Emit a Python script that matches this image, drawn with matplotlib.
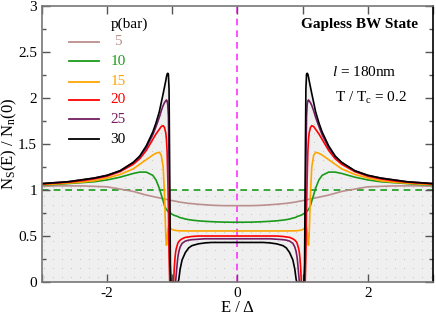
import numpy as np
import matplotlib
matplotlib.use('Agg')
import matplotlib.pyplot as plt

plt.rcParams['font.family'] = ['Liberation Serif', 'DejaVu Serif']
plt.rcParams['mathtext.fontset'] = 'custom'
plt.rcParams['mathtext.rm'] = 'Liberation Serif'
plt.rcParams['mathtext.it'] = 'Liberation Serif:italic'

# energies E/Delta on the negative side (curves are symmetric about E = 0)
E_half = [-3.0, -2.8, -2.6, -2.4, -2.2, -2.0, -1.8, -1.6, -1.5, -1.4, -1.3,
          -1.25, -1.2, -1.17, -1.14, -1.12, -1.10, -1.09, -1.08, -1.07, -1.06,
          -1.05, -1.04, -1.03, -1.02, -1.0, -0.98, -0.97, -0.96, -0.95, -0.94,
          -0.92, -0.91, -0.90, -0.88, -0.85, -0.8, -0.75, -0.7, -0.6, -0.5,
          -0.4, -0.3, -0.2, -0.1, 0.0]

pressures = ['5', '10', '15', '20', '25', '30']

dos_5 = [1.04, 1.045, 1.045, 1.045, 1.04, 1.035, 1.01, 0.985, 0.965, 0.945, 0.93,
         0.922, 0.915, 0.91, 0.905, 0.903, 0.90, 0.898, 0.897, 0.895, 0.893,
         0.891, 0.89, 0.888, 0.887, 0.885, 0.882, 0.881, 0.879, 0.878, 0.877,
         0.874, 0.872, 0.87, 0.868, 0.865, 0.86, 0.855, 0.852, 0.845, 0.84,
         0.835, 0.832, 0.83, 0.83, 0.83]

dos_10 = [1.055, 1.06, 1.07, 1.08, 1.09, 1.11, 1.14, 1.18, 1.195, 1.195, 1.16,
          1.11, 1.02, 0.95, 0.88, 0.83, 0.80, 0.79, 0.78, 0.77, 0.765,
          0.76, 0.755, 0.75, 0.745, 0.735, 0.728, 0.725, 0.722, 0.72, 0.718,
          0.713, 0.71, 0.705, 0.70, 0.695, 0.685, 0.678, 0.673, 0.665, 0.66,
          0.656, 0.653, 0.651, 0.65, 0.65]

dos_15 = [1.06, 1.065, 1.075, 1.085, 1.10, 1.13, 1.17, 1.23, 1.28, 1.33, 1.38,
          1.40, 1.41, 1.38, 1.25, 0.95, 0.50, 0.40, 0.45, 0.55, 0.60,
          0.61, 0.60, 0.59, 0.58, 0.57, 0.565, 0.563, 0.562, 0.561, 0.56,
          0.558, 0.558, 0.557, 0.557, 0.556, 0.556, 0.555, 0.555, 0.555, 0.555,
          0.555, 0.555, 0.555, 0.555, 0.555]

dos_20 = [1.065, 1.075, 1.085, 1.10, 1.12, 1.15, 1.20, 1.28, 1.34, 1.43, 1.55,
          1.61, 1.66, 1.69, 1.70, 1.68, 1.62, 1.55, 1.42, 1.15, 0.80,
          0.30, 0.0, 0.0, 0.0, 0.0, 0.0, 0.15, 0.25, 0.32, 0.36,
          0.41, 0.43, 0.44, 0.455, 0.47, 0.485, 0.49, 0.495, 0.50, 0.50,
          0.50, 0.50, 0.50, 0.50, 0.50]

dos_25 = [1.07, 1.08, 1.09, 1.11, 1.13, 1.16, 1.21, 1.30, 1.36, 1.46, 1.60,
          1.69, 1.79, 1.86, 1.92, 1.95, 1.97, 1.98, 1.97, 1.93, 1.80,
          1.30, 0.40, 0.0, 0.0, 0.0, 0.0, 0.0, 0.0, 0.0, 0.08,
          0.24, 0.29, 0.33, 0.38, 0.42, 0.445, 0.455, 0.46, 0.465, 0.47,
          0.47, 0.47, 0.47, 0.47, 0.47]

dos_30 = [1.07, 1.08, 1.09, 1.11, 1.13, 1.16, 1.21, 1.30, 1.37, 1.48, 1.63,
          1.73, 1.85, 1.95, 2.05, 2.12, 2.19, 2.23, 2.26, 2.27, 2.26,
          2.10, 1.20, 0.20, 0.0, 0.0, 0.0, 0.0, 0.0, 0.0, 0.0,
          0.0, 0.0, 0.03, 0.14, 0.24, 0.32, 0.37, 0.395, 0.415, 0.425,
          0.43, 0.43, 0.43, 0.43, 0.43]

colors = ['#bc8f8f', '#1a9a1a', '#ffa500', '#ff0000', '#731e62', '#000000']

E = np.array(E_half + [-e for e in E_half[-2::-1]])


def full(half):
    return np.array(half + half[-2::-1])


curves = [full(dos_5), full(dos_10), full(dos_15), full(dos_20), full(dos_25), full(dos_30)]

fig = plt.figure(figsize=(4.36, 3.21), dpi=100)
ax = fig.add_axes([0.0963, 0.1215, 0.8967, 0.8595])

# shaded region under the envelope, with a faint dot texture
envelope = np.maximum(1.0, curves[-1])
shade = ax.fill_between(E, 0, envelope, facecolor='#efefef', linewidth=0, zorder=0)
gx, gy = np.meshgrid(np.arange(-2.97, 3.0, 0.138), np.arange(0.05, 3.0, 0.098))
dots = ax.scatter(gx.ravel(), gy.ravel(), s=0.6, color='#c4c4c4', linewidths=0, zorder=0.5)
dots.set_clip_path(shade.get_paths()[0], ax.transData)

ax.axhline(1.0, color='#1a9a1a', ls=(0, (4, 3)), lw=1.2, zorder=1)
ax.axvline(0.0, color='#ff33ff', ls=(0, (4, 3)), lw=1.2, zorder=1)

for y, c in zip(curves, colors):
    ax.plot(E, y, color=c, lw=1.2, zorder=2)

ax.set_xlim(-3, 3)
ax.set_ylim(0, 3)
ax.set_xticks([-3, -2, -1, 0, 1, 2, 3])
ax.set_xticklabels(['', '-2', '', '0', '', '2', ''])
ax.set_yticks([0, 0.5, 1, 1.5, 2, 2.5, 3])
ax.set_yticklabels(['0', '0.5', '1', '1.5', '2', '2.5', '3'])
ax.set_yticks(np.arange(0, 3.01, 0.25), minor=True)
ax.tick_params(which='both', direction='in', top=True, right=True, labelsize=11,
               color='#555555')
ax.tick_params(which='major', length=6, width=1)
ax.tick_params(which='minor', length=3, width=1)
for s in ['left', 'bottom', 'top']:
    ax.spines[s].set_color('#777777')
    ax.spines[s].set_linewidth(1.2)
ax.spines['right'].set_color('black')
ax.spines['right'].set_linewidth(1.2)

ax.set_xlabel('E / Δ', fontsize=12, labelpad=0)
ax.set_ylabel(r'N$_\mathrm{S}$(E) / N$_\mathrm{n}$(0)', fontsize=12)
ax.yaxis.set_label_coords(-0.058, 0.5)

# legend drawn by hand
ax.text(-1.66, 2.8, 'p(bar)', fontsize=11, ha='center', va='center')
row_y = [2.61, 2.40, 2.18, 1.98, 1.77, 1.55]
for lab, c, yy in zip(pressures, colors, row_y):
    ax.plot([-2.58, -2.12], [yy, yy], color=c, lw=1.3, zorder=3)
    ax.text(-1.83, yy, lab, color=c, fontsize=11, ha='center', va='center')

ax.text(1.88, 2.8, 'Gapless BW State', fontsize=11, fontweight='bold',
        ha='center', va='center')
ax.text(1.95, 2.28, r'$\it{l}$ = 180nm', fontsize=11, ha='center', va='center')
ax.text(2.05, 2.0, r'T / T$_\mathrm{c}$ = 0.2', fontsize=11, ha='center', va='center')

fig.savefig('out.png', dpi=100)
